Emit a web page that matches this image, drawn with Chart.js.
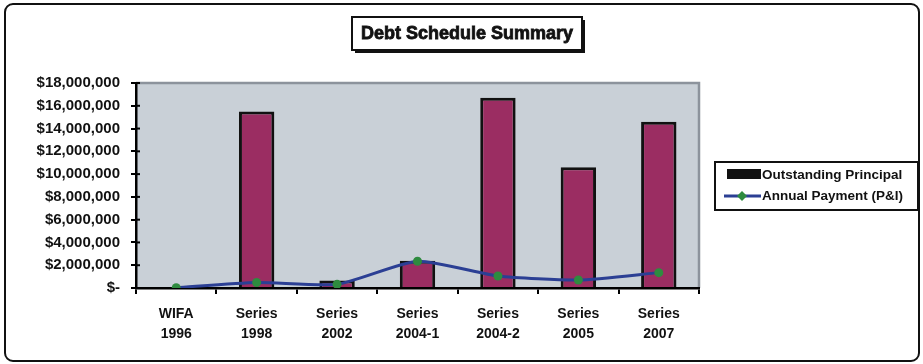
<!DOCTYPE html>
<html>
<head>
<meta charset="utf-8">
<script src="https://cdn.jsdelivr.net/npm/chart.js@4.4.1/dist/chart.umd.min.js"></script>
<style>
  html, body { margin: 0; padding: 0; background: #ffffff; }
  #wrap { width: 923px; height: 364px; }
</style>
</head>
<body>
<div id="wrap"><canvas id="c" width="923" height="364"></canvas></div>
<script>
const chartTitle = 'Debt Schedule Summary';
const categories = [['WIFA', '1996'], ['Series', '1998'], ['Series', '2002'], ['Series', '2004-1'], ['Series', '2004-2'], ['Series', '2005'], ['Series', '2007']];
const principalLabel = 'Outstanding Principal';
const paymentLabel = 'Annual Payment (P&I)';
const outstandingPrincipal = [0, 15500000, 650000, 2400000, 16700000, 10600000, 14600000];
const annualPayment = [30000, 480000, 320000, 2350000, 1050000, 700000, 1350000];
const yMax = 18000000;
const yStep = 2000000;

const FONT = "'Liberation Sans', Arial, sans-serif";
const PLOT_BG = '#C9D0D7';
const BAR_FILL = '#9B2D62';
const LINE_COLOR = '#2B3F94';
const POINT_COLOR = '#2E8B3F';

const decorPlugin = {
  id: 'decor',
  beforeDraw(chart) {
    const ctx = chart.ctx;
    const a = chart.chartArea;
    ctx.save();
    ctx.fillStyle = '#ffffff';
    ctx.fillRect(0, 0, chart.width, chart.height);
    ctx.strokeStyle = '#111';
    ctx.lineWidth = 2;
    ctx.beginPath();
    ctx.roundRect(5, 4, 914, 357, 8);
    ctx.stroke();
    ctx.fillStyle = PLOT_BG;
    ctx.fillRect(a.left, a.top, a.right - a.left, a.bottom - a.top);
    ctx.strokeStyle = '#8C939C';
    ctx.lineWidth = 2.5;
    ctx.beginPath();
    ctx.moveTo(a.left, a.top);
    ctx.lineTo(a.right, a.top);
    ctx.lineTo(a.right, a.bottom);
    ctx.stroke();
    ctx.restore();
  },
  afterDraw(chart) {
    const ctx = chart.ctx;
    const a = chart.chartArea;
    ctx.save();
    const ys = chart.scales.y;
    ctx.strokeStyle = '#000';
    ctx.lineWidth = 2;
    ys.ticks.forEach(t => {
      const y = ys.getPixelForValue(t.value);
      ctx.beginPath();
      ctx.moveTo(a.left, y);
      ctx.lineTo(a.left + 4, y);
      ctx.stroke();
    });
    // title box with shadow
    const tx = 352, ty = 17, tw = 230, th = 33;
    ctx.fillStyle = '#111';
    ctx.fillRect(tx + 3, ty + 3, tw, th);
    ctx.fillStyle = '#fff';
    ctx.fillRect(tx, ty, tw, th);
    ctx.strokeStyle = '#111';
    ctx.lineWidth = 2;
    ctx.strokeRect(tx, ty, tw, th);
    ctx.fillStyle = '#111';
    ctx.font = 'bold 18px ' + FONT;
    ctx.textAlign = 'center';
    ctx.textBaseline = 'middle';
    ctx.lineWidth = 0.8;
    ctx.strokeText(chartTitle, tx + tw / 2, ty + th / 2 + 1);
    ctx.fillText(chartTitle, tx + tw / 2, ty + th / 2 + 1);
    // legend box
    const lx = 715, ly = 162, lw = 203, lh = 48;
    ctx.fillStyle = '#fff';
    ctx.fillRect(lx, ly, lw, lh);
    ctx.strokeStyle = '#111';
    ctx.lineWidth = 2;
    ctx.strokeRect(lx, ly, lw, lh);
    const ds = chart.data.datasets;
    ctx.fillStyle = '#111';
    ctx.fillRect(727, 169, 34, 10);
    ctx.font = 'bold 13.5px ' + FONT;
    ctx.textAlign = 'left';
    ctx.textBaseline = 'middle';
    ctx.fillText(ds[1].label, 762, 175);
    ctx.strokeStyle = LINE_COLOR;
    ctx.lineWidth = 3;
    ctx.beginPath();
    ctx.moveTo(724, 196);
    ctx.lineTo(761, 196);
    ctx.stroke();
    ctx.fillStyle = POINT_COLOR;
    ctx.beginPath();
    ctx.moveTo(742, 191); ctx.lineTo(747, 196); ctx.lineTo(742, 201); ctx.lineTo(737, 196);
    ctx.closePath();
    ctx.fill();
    ctx.fillStyle = '#111';
    ctx.fillText(ds[0].label, 762, 196);
    ctx.restore();
  }
};

new Chart(document.getElementById('c'), {
  data: {
    labels: categories,
    datasets: [
      {
        type: 'line',
        label: paymentLabel,
        data: annualPayment,
        borderColor: LINE_COLOR,
        borderWidth: 3,
        tension: 0.2,
        pointRadius: 4.5,
        pointBackgroundColor: POINT_COLOR,
        pointBorderColor: POINT_COLOR,
        pointBorderWidth: 0,
        order: 0
      },
      {
        type: 'bar',
        label: principalLabel,
        data: outstandingPrincipal,
        backgroundColor: BAR_FILL,
        borderColor: '#111',
        borderWidth: 3,
        borderSkipped: 'bottom',
        categoryPercentage: 1.0,
        barPercentage: 0.44,
        order: 1
      }
    ]
  },
  options: {
    responsive: false,
    animation: false,
    devicePixelRatio: 1,
    layout: { padding: { top: 83, right: 224, left: 0, bottom: 0 } },
    plugins: {
      legend: { display: false },
      title: { display: false },
      tooltip: { enabled: false }
    },
    scales: {
      x: {
        offset: true,
        grid: { offset: true, drawOnChartArea: false, drawTicks: true, tickLength: 6, color: '#000', lineWidth: 2 },
        border: { display: true, color: '#000', width: 2.5 },
        ticks: { color: '#111', font: { family: FONT, size: 14, weight: 'bold', lineHeight: 1.45 }, padding: 10, maxRotation: 0, autoSkip: false },
        afterFit(s) { s.height = 76; }
      },
      y: {
        min: 0,
        max: yMax,
        grid: { drawOnChartArea: false, drawTicks: true, tickLength: 5, color: '#000', lineWidth: 2 },
        border: { display: true, color: '#000', width: 2.5 },
        ticks: {
          stepSize: yStep,
          color: '#111',
          font: { family: FONT, size: 15, weight: 'bold' },
          padding: 11,
          callback: v => v === 0 ? '$-' : '$' + v.toLocaleString('en-US')
        },
        afterFit(s) { s.width = 136; }
      }
    }
  },
  plugins: [decorPlugin]
});
</script>
</body>
</html>
